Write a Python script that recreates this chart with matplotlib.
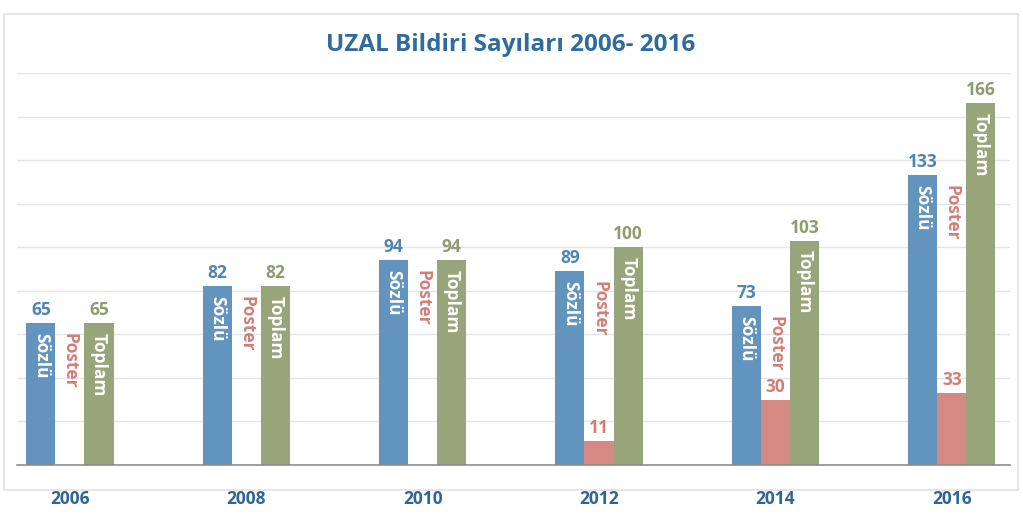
import matplotlib
matplotlib.use("Agg")
import matplotlib.pyplot as plt
from matplotlib.patches import Rectangle
import numpy as np

years = ["2006", "2008", "2010", "2012", "2014", "2016"]
sozlu = [65, 82, 94, 89, 73, 133]
poster = [0, 0, 0, 11, 30, 33]
toplam = [65, 82, 94, 100, 103, 166]
series_names = ["Sözlü", "Poster", "Toplam"]
title = "UZAL Bildiri Sayıları 2006- 2016"

c_soz = "#6394BE"
c_pos = "#D48A82"
c_top = "#98A57A"
c_soz_txt = "#4F84B3"
c_pos_txt = "#D07F78"
c_top_txt = "#8E9C70"
c_title = "#2F6C9C"

plt.rcParams['font.family'] = ['Open Sans', 'DejaVu Sans']

W, H = 1023, 525
fig = plt.figure(figsize=(W / 100, H / 100), dpi=100)

# outer frame
fig.patches.append(Rectangle((4 / W, 1 - 490 / H), 1014 / W, 476 / H,
                             transform=fig.transFigure, fill=False,
                             edgecolor="#E2E2E2", linewidth=1.2, zorder=0))

ax = fig.add_axes([17 / W, 1 - 465 / H, 993 / W, 392 / H])
x = np.arange(len(years))
bw = 0.165

ax.bar(x - bw, sozlu, width=bw, color=c_soz, zorder=2)
ax.bar(x, poster, width=bw, color=c_pos, zorder=2)
ax.bar(x + bw, toplam, width=bw, color=c_top, zorder=2)

ax.set_xlim(-0.30, len(years) - 1 + 0.33)
ax.set_ylim(0, 180)
ax.set_yticks(np.arange(20, 181, 20))
ax.yaxis.grid(True, color="#E4E4E4", linewidth=1.0, zorder=0)
ax.tick_params(axis="y", left=False, labelleft=False)
ax.set_xticks(x)
ax.set_xticklabels(years, fontsize=12.5, fontweight="bold", color="#2E6594")
ax.tick_params(axis="x", length=0, pad=18)
for s in ["top", "right", "left"]:
    ax.spines[s].set_visible(False)
ax.spines["bottom"].set_color("#8C8C8C")
ax.spines["bottom"].set_linewidth(1.2)
ax.spines["bottom"].set_zorder(3)

vfs = 12.5
nfs = 12.5
for i in range(len(years)):
    # value labels
    ax.annotate(str(sozlu[i]), (x[i] - bw, sozlu[i]), xytext=(0, 3),
                textcoords="offset points", ha="center", va="bottom",
                fontsize=vfs, fontweight="bold", color=c_soz_txt)
    ax.annotate(str(toplam[i]), (x[i] + bw, toplam[i]), xytext=(0, 3),
                textcoords="offset points", ha="center", va="bottom",
                fontsize=vfs, fontweight="bold", color=c_top_txt)
    if poster[i] > 0:
        ax.annotate(str(poster[i]), (x[i], poster[i]), xytext=(0, 3),
                    textcoords="offset points", ha="center", va="bottom",
                    fontsize=vfs, fontweight="bold", color=c_pos_txt)
    # series name labels (rotated)
    ax.annotate(series_names[0], (x[i] - bw, sozlu[i]), xytext=(0, -7),
                textcoords="offset points", ha="center", va="top",
                rotation=270, fontsize=nfs, fontweight="bold", color="white")
    ax.annotate(series_names[1], (x[i], sozlu[i]), xytext=(0, -7),
                textcoords="offset points", ha="center", va="top",
                rotation=270, fontsize=nfs, fontweight="bold", color=c_pos_txt)
    ax.annotate(series_names[2], (x[i] + bw, toplam[i]), xytext=(0, -7),
                textcoords="offset points", ha="center", va="top",
                rotation=270, fontsize=nfs, fontweight="bold", color="white")

fig.text(511 / W, 1 - 45 / H, title, ha="center", va="center",
         fontsize=17.5, fontweight="bold", color=c_title)

fig.savefig("out.png", dpi=100)
